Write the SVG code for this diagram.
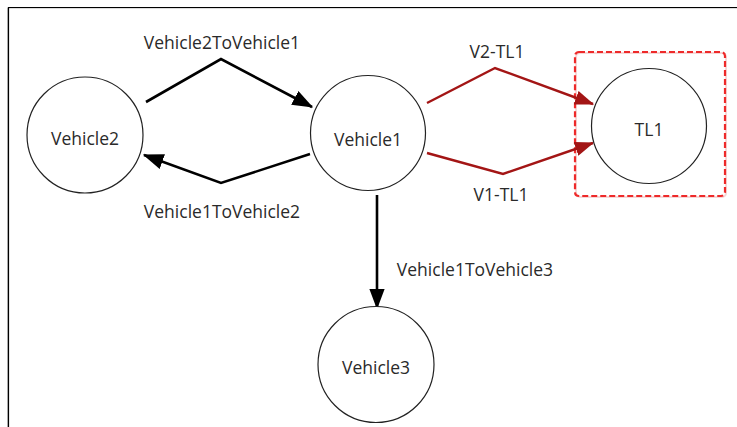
<svg xmlns="http://www.w3.org/2000/svg" width="737" height="427" viewBox="0 0 737 427">
<style>
.node circle{fill:#fff;stroke:#222;stroke-width:1.2}
text{font-family:"Open Sans","Noto Sans","DejaVu Sans",sans-serif;font-size:17.5px;fill:#2a2a2a;text-anchor:middle;dominant-baseline:central}
.blk{fill:none;stroke:#000;stroke-width:2.6;stroke-linejoin:miter}
.red{fill:none;stroke:#a31515;stroke-width:2.4;stroke-linejoin:miter}
</style>
<defs>
<marker id="ab" markerWidth="8" markerHeight="6" refX="7.5" refY="3" orient="auto" markerUnits="strokeWidth">
<path d="M0,0 L8,3 L0,6 Z" fill="#000"/>
</marker>
<marker id="ar" markerWidth="8" markerHeight="6" refX="7.5" refY="3" orient="auto" markerUnits="strokeWidth">
<path d="M0,0 L8,3 L0,6 Z" fill="#a31515"/>
</marker>
</defs>
<rect x="0" y="0" width="737" height="427" fill="#fff"/>
<path d="M7.5,427 V8 H737" fill="none" stroke="#bbb" stroke-width="1"/>
<path d="M8.5,427 V7.5 H737" fill="none" stroke="#000" stroke-width="1.2"/>
<rect x="575" y="52" width="150" height="144" rx="4" fill="none" stroke="#f0b0b0" stroke-width="2" transform="translate(1,1)" opacity="0.5"/>
<rect x="575" y="52" width="150" height="144" rx="4" fill="none" stroke="#ee2a2a" stroke-width="2.2" stroke-dasharray="6 3"/>
<g id="connectors">
<polyline class="blk" points="146,102 221,59 312,107" marker-end="url(#ab)"/>
<polyline class="blk" points="310,154 221,183 144,155" marker-end="url(#ab)"/>
<polyline class="blk" points="377,195 377,308" marker-end="url(#ab)"/>
<polyline class="red" points="427,103 495,68 593,104" marker-end="url(#ar)"/>
<polyline class="red" points="427,153 503,174 593,143" marker-end="url(#ar)"/>
<text x="222" y="42">Vehicle2ToVehicle1</text>
<text x="222" y="211">Vehicle1ToVehicle2</text>
<text x="497" y="51">V2-TL1</text>
<text x="501" y="194">V1-TL1</text>
<text x="475" y="269">Vehicle1ToVehicle3</text>
</g>
<g id="Vehicle2" class="node"><circle cx="85" cy="135" r="58"/><text x="85" y="138">Vehicle2</text></g>
<g id="Vehicle1" class="node"><circle cx="368" cy="133" r="57.5"/><text x="368" y="139">Vehicle1</text></g>
<g id="Vehicle3" class="node"><circle cx="376" cy="364.5" r="58"/><text x="376" y="367">Vehicle3</text></g>
<g id="TL1" class="node"><circle cx="649" cy="126" r="57.5"/><text x="649" y="129">TL1</text></g>
</svg>
